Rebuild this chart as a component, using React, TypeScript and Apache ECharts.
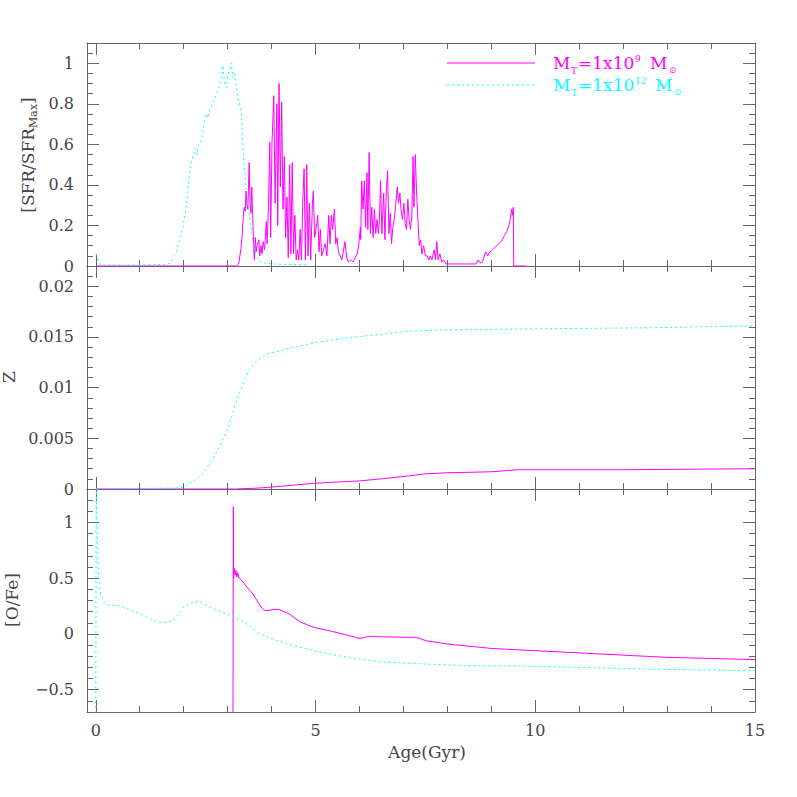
import { useEffect, useRef } from "react";
import * as echarts from "echarts";

// ---------- axis ranges and tick labels ----------
const X_MIN = -0.2;
const X_MAX = 15;
const xMajorTicks = [0, 5, 10, 15];
const xMinorStep = 1;

const sfrRange = [0, 1.1];
const sfrMajorTicks = [0, 0.2, 0.4, 0.6, 0.8, 1];
const sfrMinorStep = 0.05;

const zRange = [0, 0.022];
const zMajorTicks = [0, 0.005, 0.01, 0.015, 0.02];
const zMinorStep = 0.001;

const ofeRange = [-0.7, 1.3];
const ofeMajorTicks = [-0.5, 0, 0.5, 1];
const ofeMinorStep = 0.1;

// legend entries: mass exponent text
const legendExponents = ["9", "12"];

// ---------- data: [Age (Gyr), value] ----------
// SFR/SFRmax, M_T = 1e9 Msun
const sfrLow: [number, number][] = [
  [0, 0], [3.2, 0], [3.25, 0.01], [3.3, 0.08], [3.33, 0.15], [3.36, 0.26], [3.38, 0.29], [3.4, 0.27],
  [3.42, 0.37], [3.44, 0.3], [3.46, 0.28], [3.49, 0.51], [3.51, 0.31], [3.53, 0.26], [3.55, 0.39],
  [3.57, 0.25], [3.58, 0.18], [3.6, 0.06], [3.61, 0.03], [3.63, 0.14], [3.65, 0.07], [3.67, 0.1],
  [3.71, 0.13], [3.73, 0.05], [3.76, 0.1], [3.78, 0.06], [3.81, 0.12], [3.84, 0.08], [3.88, 0.22],
  [3.9, 0.11], [3.93, 0.3], [3.96, 0.61], [3.98, 0.14], [4.01, 0.61], [4.05, 0.84], [4.08, 0.31],
  [4.12, 0.8], [4.14, 0.2], [4.17, 0.9], [4.2, 0.39], [4.23, 0.81], [4.26, 0.28], [4.29, 0.54],
  [4.32, 0.14], [4.35, 0.34], [4.38, 0.04], [4.41, 0.5], [4.44, 0.06], [4.47, 0.51], [4.5, 0.06],
  [4.53, 0.25], [4.56, 0.03], [4.59, 0.08], [4.62, 0.03], [4.65, 0.18], [4.68, 0.03], [4.71, 0.32],
  [4.74, 0.48], [4.77, 0.03], [4.8, 0.5], [4.83, 0.05], [4.86, 0.31], [4.89, 0.03], [4.93, 0.31],
  [4.95, 0.37], [4.98, 0.14], [5.01, 0.18], [5.05, 0.25], [5.08, 0.07], [5.11, 0.18], [5.14, 0.05],
  [5.18, 0.08], [5.22, 0.11], [5.26, 0.05], [5.3, 0.25], [5.33, 0.11], [5.36, 0.25], [5.39, 0.18],
  [5.43, 0.28], [5.46, 0.11], [5.49, 0.14], [5.52, 0.07], [5.56, 0.05], [5.6, 0.03], [5.67, 0.12],
  [5.71, 0.04], [5.75, 0.02], [5.8, 0.03], [5.85, 0.02], [5.9, 0.04], [5.95, 0.06], [5.98, 0.1],
  [6.02, 0.19], [6.03, 0.13], [6.05, 0.42], [6.08, 0.28], [6.11, 0.42], [6.14, 0.19], [6.17, 0.46],
  [6.19, 0.18], [6.22, 0.56], [6.25, 0.16], [6.28, 0.29], [6.31, 0.14], [6.34, 0.28], [6.37, 0.16],
  [6.4, 0.23], [6.43, 0.16], [6.45, 0.21], [6.48, 0.42], [6.51, 0.16], [6.55, 0.36], [6.58, 0.13],
  [6.61, 0.37], [6.64, 0.47], [6.67, 0.16], [6.7, 0.26], [6.73, 0.11], [6.76, 0.19], [6.79, 0.23],
  [6.82, 0.29], [6.86, 0.39], [6.89, 0.31], [6.92, 0.36], [6.95, 0.27], [6.98, 0.23], [7.01, 0.31],
  [7.04, 0.21], [7.07, 0.18], [7.1, 0.33], [7.13, 0.23], [7.16, 0.18], [7.19, 0.24], [7.22, 0.54],
  [7.24, 0.29], [7.27, 0.55], [7.3, 0.36], [7.33, 0.23], [7.36, 0.1], [7.39, 0.13], [7.42, 0.06],
  [7.46, 0.1], [7.5, 0.05], [7.54, 0.05], [7.58, 0.03], [7.61, 0.05], [7.65, 0.03], [7.7, 0.08],
  [7.73, 0.03], [7.76, 0.12], [7.79, 0.03], [7.83, 0.06], [7.87, 0.02], [7.92, 0.03], [7.97, 0.01],
  [8.3, 0.01], [8.65, 0.01], [8.7, 0.03], [8.75, 0.015], [8.8, 0.02], [8.87, 0.07], [8.92, 0.05],
  [8.97, 0.07], [9.03, 0.08], [9.08, 0.09], [9.12, 0.1], [9.17, 0.11], [9.22, 0.12], [9.25, 0.13],
  [9.3, 0.15], [9.35, 0.17], [9.4, 0.2], [9.43, 0.23], [9.46, 0.28], [9.48, 0.25], [9.5, 0.29],
  [9.51, 0], [9.8, 0],
];
// SFR/SFRmax, M_T = 1e12 Msun
const sfrHigh: [number, number][] = [
  [0, 0.06], [0.05, 0.03], [0.1, 0.005], [1.0, 0.005], [1.6, 0.008], [1.7, 0.015], [1.83, 0.07],
  [1.98, 0.19], [2.06, 0.29], [2.14, 0.475], [2.21, 0.54], [2.27, 0.58], [2.3, 0.55], [2.33, 0.59],
  [2.4, 0.62], [2.48, 0.73], [2.52, 0.75], [2.55, 0.73], [2.59, 0.77], [2.7, 0.82], [2.76, 0.86],
  [2.82, 0.89], [2.87, 0.96], [2.89, 0.99], [2.93, 0.9], [2.97, 0.88], [3.0, 0.94], [3.05, 0.97],
  [3.08, 1.0], [3.12, 0.93], [3.16, 0.95], [3.23, 0.84], [3.31, 0.76], [3.36, 0.54], [3.42, 0.39],
  [3.5, 0.24], [3.58, 0.11], [3.65, 0.05], [3.75, 0.02], [3.88, 0.013], [4.2, 0.008], [4.85, 0.006],
];
// Metallicity Z
const zLow: [number, number][] = [
  [0, 0], [3.2, 0], [3.73, 0.0001], [4.3, 0.0003], [4.95, 0.00056], [6.0, 0.0008], [6.5, 0.001],
  [7.14, 0.0013], [7.5, 0.0015], [8, 0.0016], [9, 0.0017], [9.6, 0.0019], [10, 0.0019], [12, 0.0019],
  [15, 0.002],
];
const zHigh: [number, number][] = [
  [0, 0], [1.9, 0.0001], [2.0, 0.0002], [2.21, 0.00072], [2.44, 0.00155], [2.67, 0.003],
  [2.89, 0.00485], [3.05, 0.0065], [3.16, 0.0081], [3.27, 0.0095], [3.39, 0.0108], [3.5, 0.0118],
  [3.65, 0.0126], [3.88, 0.0133], [4.33, 0.0138], [4.94, 0.0144], [5.7, 0.0149], [6.45, 0.01525],
  [7.14, 0.01557], [8, 0.0157], [10, 0.0158], [12.5, 0.0159], [15, 0.0161],
];
// [O/Fe]
const ofeLow: [number, number][] = [
  [3.12, -1.0], [3.13, 1.14], [3.135, 0.5], [3.15, 0.59], [3.17, 0.53], [3.19, 0.57], [3.21, 0.51],
  [3.23, 0.55], [3.26, 0.5], [3.3, 0.49], [3.44, 0.42], [3.59, 0.35], [3.76, 0.24], [3.85, 0.21],
  [3.94, 0.21], [4.05, 0.22], [4.17, 0.22], [4.28, 0.2], [4.4, 0.18], [4.64, 0.11], [4.95, 0.06],
  [5.41, 0.02], [6.01, -0.04], [6.23, -0.02], [6.47, -0.025], [7.0, -0.03], [7.3, -0.03],
  [7.5, -0.06], [8.0, -0.09], [9.0, -0.13], [9.5, -0.14], [10, -0.15], [11, -0.17], [12, -0.19],
  [13, -0.21], [14, -0.22], [15, -0.23],
];
const ofeHigh: [number, number][] = [
  [0, -0.8], [0.01, 1.4], [0.03, 0.9], [0.06, 0.55], [0.11, 0.35], [0.2, 0.28], [0.26, 0.26],
  [0.56, 0.25], [1.01, 0.18], [1.32, 0.12], [1.55, 0.1], [1.77, 0.12], [1.99, 0.24], [2.23, 0.29],
  [2.37, 0.29], [2.6, 0.24], [2.9, 0.19], [3.13, 0.16], [3.44, 0.09], [3.74, 0.0], [4.05, -0.05],
  [4.35, -0.09], [4.96, -0.15], [5.71, -0.21], [6.47, -0.25], [7.5, -0.27], [8.5, -0.285],
  [10, -0.29], [12.5, -0.315], [15, -0.33],
];

// ---------- styles ----------
const FONT = "'DejaVu Serif', 'Liberation Serif', serif";
const TEXT = "#444";
const AX = "#666";
const MAGENTA = "#ff00ff";
const CYAN = "#00ffff";

function steps(min: number, max: number, step: number): number[] {
  const out: number[] = [];
  const start = Math.ceil(min / step - 1e-9);
  const end = Math.floor(max / step + 1e-9);
  for (let i = start; i <= end; i++) out.push(Math.round(i * step * 1e6) / 1e6);
  return out;
}

const fmt = (v: number) => (v < 0 ? "\u2212" + String(-v) : String(v));

const GRID_LEFT = 87;
const GRID_RIGHT = 42;
const GRID_H = 223;
const GRID_TOPS = [43, 266, 489];

function xAxesFor(gridIndex: number, showLabels: boolean) {
  const base = {
    type: "value",
    gridIndex,
    min: X_MIN,
    max: X_MAX,
    splitLine: { show: false },
    silent: true,
  };
  const minor = steps(0, X_MAX, xMinorStep);
  const mk = (position: string, major: boolean) => ({
    ...base,
    position,
    axisLine: { show: major, onZero: false, lineStyle: { color: AX, width: 1 } },
    axisTick: {
      show: true,
      inside: true,
      length: major ? 12 : 6,
      customValues: major ? xMajorTicks : minor,
      lineStyle: { color: AX, width: 1 },
    },
    axisLabel:
      major && position === "bottom" && showLabels
        ? {
            show: true,
            customValues: xMajorTicks,
            margin: 10,
            fontFamily: FONT,
            fontSize: 16,
            color: TEXT,
            formatter: fmt,
          }
        : { show: false },
  });
  return [mk("bottom", true), mk("bottom", false), mk("top", true), mk("top", false)];
}

function yAxesFor(gridIndex: number, range: number[], majors: number[], minorStep: number) {
  const base = {
    type: "value",
    gridIndex,
    min: range[0],
    max: range[1],
    splitLine: { show: false },
    silent: true,
  };
  const minor = steps(range[0], range[1], minorStep);
  const mk = (position: string, major: boolean) => ({
    ...base,
    position,
    axisLine: { show: major, onZero: false, lineStyle: { color: AX, width: 1 } },
    axisTick: {
      show: true,
      inside: true,
      length: major ? 12 : 6,
      customValues: major ? majors : minor,
      lineStyle: { color: AX, width: 1 },
    },
    axisLabel:
      major && position === "left"
        ? {
            show: true,
            customValues: majors,
            margin: 13,
            fontFamily: FONT,
            fontSize: 16,
            color: TEXT,
            formatter: fmt,
          }
        : { show: false },
  });
  return [mk("left", true), mk("left", false), mk("right", true), mk("right", false)];
}

function lineSeries(data: [number, number][], g: number, color: string, dotted: boolean) {
  return {
    type: "line",
    xAxisIndex: g * 4,
    yAxisIndex: g * 4,
    data,
    showSymbol: false,
    symbol: "none",
    silent: true,
    clip: true,
    lineStyle: { color, width: 1, type: dotted ? [2, 3] : "solid" },
  };
}

const titleRich = {
  a: { fontFamily: FONT, fontSize: 17, lineHeight: 22, fill: TEXT },
  s: { fontFamily: FONT, fontSize: 11, lineHeight: 8, verticalAlign: "bottom", fill: TEXT },
};

function txt(x: number, y: number, text: string, size: number, color: string) {
  return {
    type: "text",
    x,
    y,
    silent: true,
    style: { text, font: `${size}px ${FONT}`, fill: color, align: "left", verticalAlign: "middle" },
  };
}

function legendEntry(y: number, exp: string, color: string, dotted: boolean) {
  const wide = exp.length > 1;
  return [
    {
      type: "line",
      silent: true,
      shape: { x1: 447, y1: y, x2: 535, y2: y },
      style: { stroke: color, lineWidth: 1, lineDash: dotted ? [2, 3] : null },
    },
    txt(553, y, "M", 17, color),
    txt(571, y + 8, "T", 9, color),
    txt(578, y, "=1x10", 17, color),
    txt(635, y - 4, exp, 9, color),
    txt(wide ? 655 : 650, y, "M", 17, color),
    txt(wide ? 674 : 669, y + 7, "\u2299", 9, color),
  ];
}

export default function App() {
  const ref = useRef<HTMLDivElement>(null);
  useEffect(() => {
    if (!ref.current) return;
    const chart = echarts.init(ref.current, undefined, { renderer: "svg" });
    const option = {
      animation: false,
      backgroundColor: "#ffffff",
      grid: GRID_TOPS.map((top) => ({
        left: GRID_LEFT,
        right: GRID_RIGHT,
        top,
        height: GRID_H,
        containLabel: false,
        outerBoundsMode: "none",
      })),
      xAxis: [...xAxesFor(0, false), ...xAxesFor(1, false), ...xAxesFor(2, true)],
      yAxis: [
        ...yAxesFor(0, sfrRange, sfrMajorTicks, sfrMinorStep),
        ...yAxesFor(1, zRange, zMajorTicks, zMinorStep),
        ...yAxesFor(2, ofeRange, ofeMajorTicks, ofeMinorStep),
      ],
      series: [
        lineSeries(sfrLow, 0, MAGENTA, false),
        lineSeries(sfrHigh, 0, CYAN, true),
        lineSeries(zLow, 1, MAGENTA, false),
        lineSeries(zHigh, 1, CYAN, true),
        lineSeries(ofeLow, 2, MAGENTA, false),
        lineSeries(ofeHigh, 2, CYAN, true),
      ],
      graphic: [
        {
          type: "text",
          x: 28,
          y: 155,
          rotation: Math.PI / 2,
          style: {
            text: "{a|[SFR/SFR}{s|Max}{a|]}",
            rich: titleRich,
            align: "center",
            verticalAlign: "middle",
          },
        },
        {
          type: "text",
          x: 9,
          y: 377,
          rotation: Math.PI / 2,
          style: { text: "Z", font: `17px ${FONT}`, fill: TEXT, align: "center", verticalAlign: "middle" },
        },
        {
          type: "text",
          x: 12,
          y: 600,
          rotation: Math.PI / 2,
          style: { text: "[O/Fe]", font: `17px ${FONT}`, fill: TEXT, align: "center", verticalAlign: "middle" },
        },
        {
          type: "text",
          x: 427,
          y: 752,
          style: { text: "Age(Gyr)", font: `17px ${FONT}`, fill: TEXT, align: "center", verticalAlign: "middle" },
        },
        ...legendEntry(63, legendExponents[0], MAGENTA, false),
        ...legendEntry(85, legendExponents[1], CYAN, true),
      ],
    };
    chart.setOption(option as any);
    return () => chart.dispose();
  }, []);
  return (
    <div
      ref={ref}
      style={{ position: "fixed", left: 0, top: 0, width: 797, height: 797, background: "#fff" }}
    />
  );
}
